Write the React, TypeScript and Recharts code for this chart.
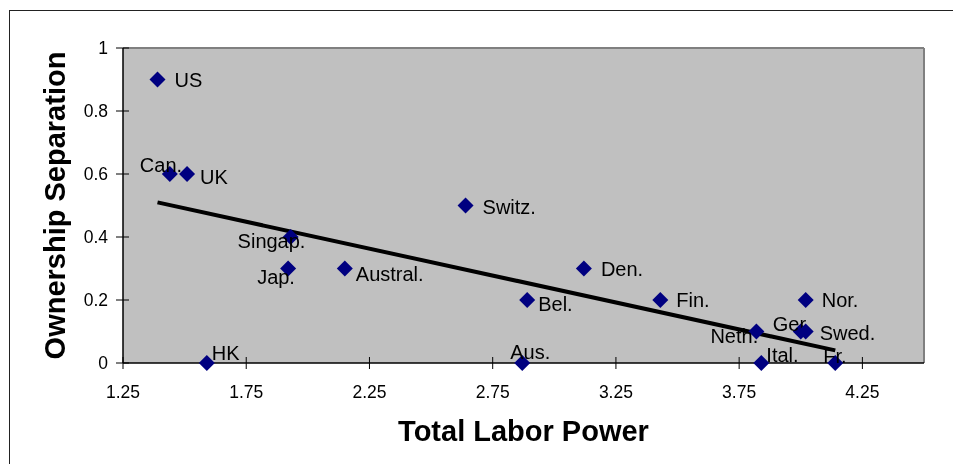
import { ScatterChart, Scatter, XAxis, YAxis, CartesianGrid, ReferenceLine } from "recharts";

const countries = ["US", "Can.", "UK", "Singap.", "Jap.", "Austral.", "HK", "Switz.", "Den.", "Bel.", "Aus.", "Fin.", "Neth.", "Ital.", "Ger.", "Swed.", "Nor.", "Fr."];
const laborPower = [1.39, 1.44, 1.51, 1.93, 1.92, 2.15, 1.59, 2.64, 3.12, 2.89, 2.87, 3.43, 3.82, 3.84, 4.0, 4.02, 4.02, 4.14];
const ownershipSep = [0.9, 0.6, 0.6, 0.4, 0.3, 0.3, 0, 0.5, 0.3, 0.2, 0, 0.2, 0.1, 0, 0.1, 0.1, 0.2, 0];
const xTicks = [1.25, 1.75, 2.25, 2.75, 3.25, 3.75, 4.25];
const yTicks = [0, 0.2, 0.4, 0.6, 0.8, 1];
const trendX = [1.39, 4.14];
const trendY = [0.51, 0.04];

// where each data label sits relative to its marker (Excel put some by hand)
const labelOffset: Record<string, [number, number]> = {
  "US": [17, 0],
  "Can.": [-30, -9],
  "UK": [13, 3],
  "Singap.": [-53, 4],
  "Jap.": [-31, 8],
  "Austral.": [11, 5],
  "HK": [5, -10],
  "Switz.": [17, 1],
  "Den.": [17, 0],
  "Bel.": [11, 4],
  "Aus.": [-12, -11],
  "Fin.": [16, 0],
  "Neth.": [-46, 4],
  "Ital.": [5, -8],
  "Ger.": [-28, -8],
  "Swed.": [14, 1],
  "Nor.": [16, 0],
  "Fr.": [-12, -7],
};

const points = countries.map((name, i) => ({ name, x: laborPower[i], y: ownershipSep[i] }));

const FONT = "'Liberation Sans', Arial, sans-serif";

const Diamond = (props: any) => {
  const { cx, cy, payload } = props;
  const r = 8;
  const [dx, dy] = labelOffset[payload.name] || [12, 0];
  return (
    <g>
      <polygon
        points={`${cx},${cy - r} ${cx + r},${cy} ${cx},${cy + r} ${cx - r},${cy}`}
        fill="#000080"
      />
      <text x={cx + dx} y={cy + dy} dy="0.35em" fontSize={20} fill="#000" fontFamily={FONT}>
        {payload.name}
      </text>
    </g>
  );
};

const YTick = (props: any) => {
  const { x, y, payload } = props;
  return (
    <g>
      <line x1={x - 7} x2={x + 6} y1={y} y2={y} stroke="#000" />
      <text x={x - 15} y={y} dy="0.35em" textAnchor="end" fontSize={17.5} fill="#000" fontFamily={FONT}>
        {payload.value}
      </text>
    </g>
  );
};

const XTick = (props: any) => {
  const { x, y, payload } = props;
  return (
    <g>
      <line x1={x} x2={x} y1={y - 6} y2={y + 6} stroke="#000" />
      <text x={x} y={y + 29} dy="0.35em" textAnchor="middle" fontSize={17.5} fill="#000" fontFamily={FONT}>
        {payload.value}
      </text>
    </g>
  );
};

export default function App() {
  return (
    <div style={{ position: "fixed", left: 8, top: 8, width: 945, height: 456, overflow: "hidden", fontFamily: FONT }}>
      <div
        style={{
          position: "absolute",
          left: 1,
          top: 2,
          right: 0,
          bottom: 0,
          borderTop: "1.5px solid #222",
          borderLeft: "1.5px solid #222",
        }}
      />
      <ScatterChart width={945} height={456} margin={{ top: 40, right: 29, left: 0, bottom: 0 }}>
        <CartesianGrid horizontal={false} vertical={false} fill="#C0C0C0" />
        <XAxis
          type="number"
          dataKey="x"
          domain={[1.25, 4.5]}
          ticks={xTicks}
          interval={0}
          height={101}
          tickSize={0}
          tickMargin={0}
          tickLine={false}
          tick={<XTick />}
          axisLine={{ stroke: "#000", strokeWidth: 1.5 }}
          label={{
            value: "Total Labor Power",
            position: "insideBottom",
            offset: 23,
            style: { fontSize: 29, fontWeight: "bold", fill: "#000", fontFamily: FONT },
          }}
        />
        <YAxis
          type="number"
          dataKey="y"
          domain={[0, 1]}
          ticks={yTicks}
          interval={0}
          width={115}
          tickSize={0}
          tickMargin={0}
          tickLine={false}
          tick={<YTick />}
          axisLine={{ stroke: "#000", strokeWidth: 1.5 }}
          label={{
            value: "Ownership Separation",
            position: "insideLeft",
            angle: -90,
            offset: 47,
            style: { textAnchor: "middle", fontSize: 29, fontWeight: "bold", fill: "#000", fontFamily: FONT },
          }}
        />
        <ReferenceLine y={1} stroke="#808080" strokeWidth={2} />
        <ReferenceLine x={4.5} stroke="#808080" strokeWidth={2} />
        <Scatter data={points} shape={<Diamond />} isAnimationActive={false} />
        <ReferenceLine
          segment={[
            { x: trendX[0], y: trendY[0] },
            { x: trendX[1], y: trendY[1] },
          ]}
          stroke="#000"
          strokeWidth={4}
        />
      </ScatterChart>
    </div>
  );
}
